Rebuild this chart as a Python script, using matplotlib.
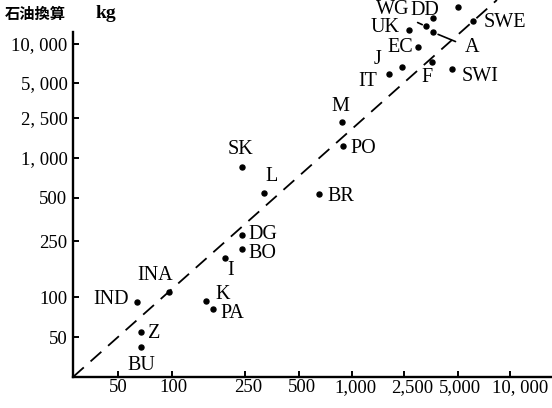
import numpy as np
import matplotlib
matplotlib.use('Agg')
import matplotlib.pyplot as plt

# ---------------- data ----------------
countries = ['DG', 'BO', 'I', 'INA', 'IND', 'K', 'PA', 'Z', 'BU',
             'M', 'PO', 'SK', 'L', 'BR',
             'DD', 'WG', 'A', 'UK', 'EC', 'SWE', 'J', 'IT', 'F', 'SWI', '']
x_vals = [241, 241, 195, 96, 64, 153, 167, 67, 67,
          877, 889, 241, 319, 650,
          3625, 3318, 3625, 2667, 2992, 6108, 2413, 1919, 3580, 4652, 5000]
y_vals = [276, 219, 189, 108, 92, 93, 81, 54.5, 42,
          2282, 1316, 856, 545, 536,
          16480, 13950, 12490, 12960, 9465, 15600, 6692, 5890, 7200, 6453, 20210]

tick_values = [50, 100, 250, 500, 1000, 2500, 5000, 10000]
x_tick_labels = ['50', '100', '250', '500', '1,000', '2,500', '5,000', '10, 000']
y_tick_labels = ['50', '100', '250', '500', '1, 000', '2, 500', '5, 000', '10, 000']

ref_line_x = [28, 8400]
ref_line_y = [25, 23000]

# ---------------- hand-drawn (irregular) log axes ----------------
x_anchor_vals = [28, 50, 100, 250, 500, 1000, 2500, 5000, 10000, 17500]
x_anchor_pos = [73, 118, 172, 245, 299, 352, 404, 458, 510, 552]
y_anchor_vals = [25, 50, 100, 250, 500, 1000, 2500, 5000, 10000, 23000]
y_anchor_pos = [408 - p for p in [377, 337, 297, 241, 198, 158, 118, 83, 44, 0]]

# horizontal nudges (pixels) of the x tick labels, as printed
x_label_nudge = [0, 1, 3, 3, 3, 8, 2, 10]


def make_funcs(vals, pos):
    lv = np.log10(np.asarray(vals, float))
    ps = np.asarray(pos, float)
    s0 = (ps[1] - ps[0]) / (lv[1] - lv[0])
    s1 = (ps[-1] - ps[-2]) / (lv[-1] - lv[-2])

    def fwd(v):
        v = np.asarray(v, float)
        l = np.log10(np.clip(v, 1e-12, None))
        out = np.interp(l, lv, ps)
        out = np.where(l < lv[0], ps[0] + (l - lv[0]) * s0, out)
        out = np.where(l > lv[-1], ps[-1] + (l - lv[-1]) * s1, out)
        return out

    def inv(p):
        p = np.asarray(p, float)
        l = np.interp(p, ps, lv)
        l = np.where(p < ps[0], lv[0] + (p - ps[0]) / s0, l)
        l = np.where(p > ps[-1], lv[-1] + (p - ps[-1]) / s1, l)
        return 10 ** l

    return fwd, inv


fx = make_funcs(x_anchor_vals, x_anchor_pos)
fy = make_funcs(y_anchor_vals, y_anchor_pos)

W, H = 552, 408
fig = plt.figure(figsize=(W / 100, H / 100), dpi=100)
ax = fig.add_axes([73 / W, (H - 377) / H, 1 - 73 / W, 377 / H])
ax.set_xscale('function', functions=fx)
ax.set_yscale('function', functions=fy)
ax.set_xlim(28, 17500)
ax.set_ylim(25, 23000)

for s in ['top', 'right']:
    ax.spines[s].set_visible(False)
for s in ['left', 'bottom']:
    ax.spines[s].set_linewidth(1.7)
ax.spines['left'].set_bounds(25, 12450)

lbl_font = dict(family='Liberation Serif', size=13.5, color='black')
ax.set_xticks(tick_values)
ax.set_xticklabels([])
ax.set_yticks(tick_values)
ax.set_yticklabels(y_tick_labels, **lbl_font)
ax.minorticks_off()
ax.tick_params(axis='both', direction='in', length=4, width=1.4)
ax.tick_params(axis='y', pad=4)

xt = ax.get_xaxis_transform()
for v, lab, dx in zip(tick_values, x_tick_labels, x_label_nudge):
    ax.annotate(lab, (v, 0), xycoords=xt, xytext=(dx, -11),
                textcoords='offset pixels', ha='center', va='center',
                annotation_clip=False, **lbl_font)

# reference dashed line
ax.plot(ref_line_x, ref_line_y, color='black', lw=1.3, ls=(0, (8, 5)))

# points
ax.plot(x_vals, y_vals, 'o', color='black', ms=3.6, clip_on=False)

# label placement: (dx, dy in pixels, ha, va)
label_style = {
    'DG': (6, 0, 'left', 'center'),
    'BO': (6, -4, 'left', 'center'),
    'I': (5, -12, 'center', 'center'),
    'INA': (-14, 17, 'center', 'center'),
    'IND': (-8, 2, 'right', 'center'),
    'K': (10, 7, 'left', 'center'),
    'PA': (8, -4, 'left', 'center'),
    'Z': (7, -1, 'left', 'center'),
    'BU': (1, -18, 'center', 'center'),
    'M': (-2, 15, 'center', 'center'),
    'PO': (7, -2, 'left', 'center'),
    'SK': (-2, 17, 'center', 'center'),
    'L': (8, 17, 'center', 'center'),
    'BR': (8, -3, 'left', 'center'),
    'DD': (-8, 7, 'center', 'center'),
    'WG': (-33, 17, 'center', 'center'),
    'A': (39, -15, 'center', 'center'),
    'UK': (-24, 3, 'center', 'center'),
    'EC': (-18, 0, 'center', 'center'),
    'SWE': (11, -2, 'left', 'center'),
    'J': (-24, 7, 'center', 'center'),
    'IT': (-21, -8, 'center', 'center'),
    'F': (-5, -15, 'center', 'center'),
    'SWI': (9, -8, 'left', 'center'),
}
pt_font = dict(family='Liberation Serif', size=14.5, color='black')
for name, xv, yv in zip(countries, x_vals, y_vals):
    if not name:
        continue
    dx, dy, ha, va = label_style[name]
    kw = {}
    if name == 'WG':
        kw['arrowprops'] = dict(arrowstyle='-', lw=1.2, color='black',
                                shrinkA=4, shrinkB=3, relpos=(1, 0))
    if name == 'A':
        kw['arrowprops'] = dict(arrowstyle='-', lw=1.2, color='black',
                                shrinkA=5, shrinkB=4, relpos=(0, 0.6))
    ax.annotate(name, (xv, yv), xytext=(dx, dy), textcoords='offset pixels',
                ha=ha, va=va, annotation_clip=False, **pt_font, **kw)

# header
fig.text(5 / W, 1 - 14 / H, '石油換算', family=['Noto Sans CJK JP', 'DejaVu Sans'],
         fontsize=11, fontweight='bold', ha='left', va='center')
fig.text(96 / W, 1 - 14 / H, 'kg', family='Liberation Serif', fontsize=14,
         fontweight='bold', ha='left', va='center')

fig.savefig('out.png', dpi=100)
